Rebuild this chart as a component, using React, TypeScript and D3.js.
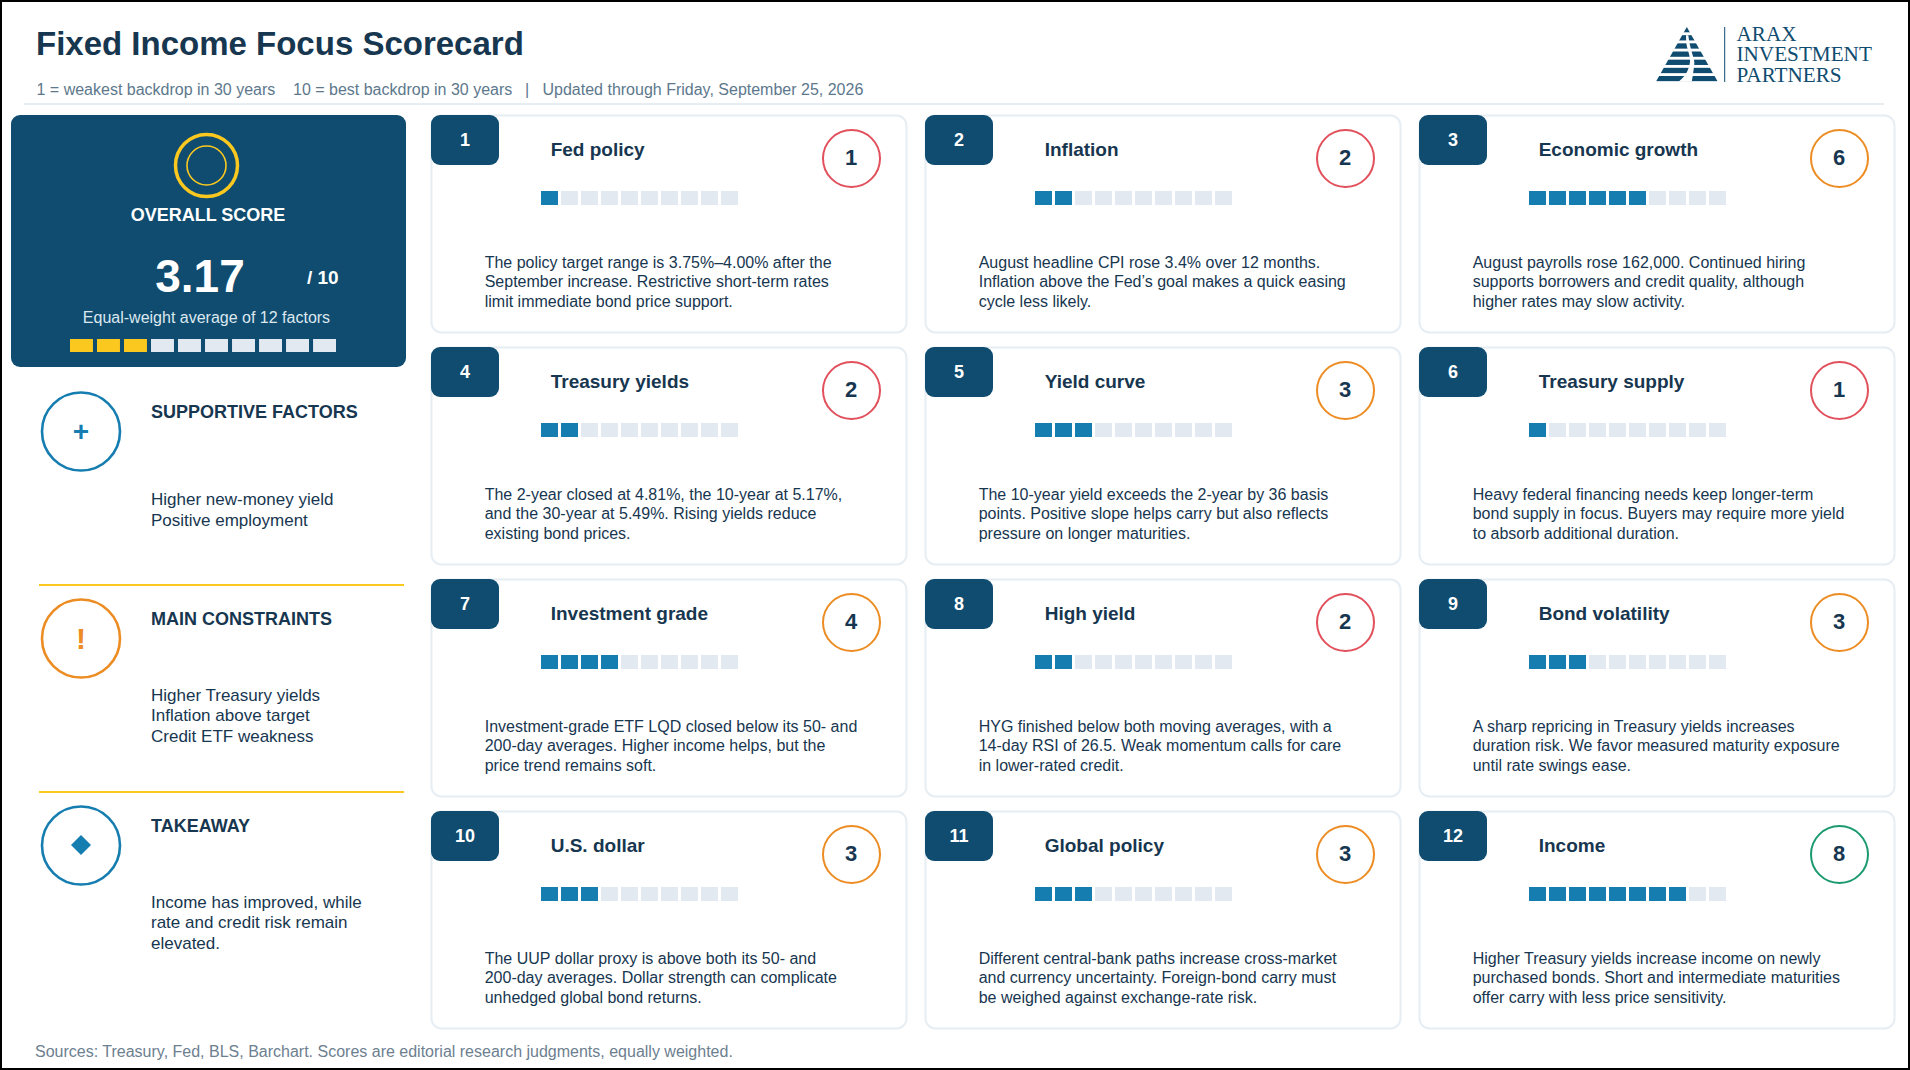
import React from 'react'
import * as d3 from 'd3'

const factorNames = ['Fed policy', 'Inflation', 'Economic growth', 'Treasury yields', 'Yield curve', 'Treasury supply', 'Investment grade', 'High yield', 'Bond volatility', 'U.S. dollar', 'Global policy', 'Income']
const factorScores = [1, 2, 6, 2, 3, 1, 4, 2, 3, 3, 3, 8]
const factorNotes = [
  ['The policy target range is 3.75%–4.00% after the', 'September increase. Restrictive short-term rates', 'limit immediate bond price support.'],
  ['August headline CPI rose 3.4% over 12 months.', 'Inflation above the Fed’s goal makes a quick easing', 'cycle less likely.'],
  ['August payrolls rose 162,000. Continued hiring', 'supports borrowers and credit quality, although', 'higher rates may slow activity.'],
  ['The 2-year closed at 4.81%, the 10-year at 5.17%,', 'and the 30-year at 5.49%. Rising yields reduce', 'existing bond prices.'],
  ['The 10-year yield exceeds the 2-year by 36 basis', 'points. Positive slope helps carry but also reflects', 'pressure on longer maturities.'],
  ['Heavy federal financing needs keep longer-term', 'bond supply in focus. Buyers may require more yield', 'to absorb additional duration.'],
  ['Investment-grade ETF LQD closed below its 50- and', '200-day averages. Higher income helps, but the', 'price trend remains soft.'],
  ['HYG finished below both moving averages, with a', '14-day RSI of 26.5. Weak momentum calls for care', 'in lower-rated credit.'],
  ['A sharp repricing in Treasury yields increases', 'duration risk. We favor measured maturity exposure', 'until rate swings ease.'],
  ['The UUP dollar proxy is above both its 50- and', '200-day averages. Dollar strength can complicate', 'unhedged global bond returns.'],
  ['Different central-bank paths increase cross-market', 'and currency uncertainty. Foreign-bond carry must', 'be weighed against exchange-rate risk.'],
  ['Higher Treasury yields increase income on newly', 'purchased bonds. Short and intermediate maturities', 'offer carry with less price sensitivity.'],
]
const sideTitles = ['SUPPORTIVE FACTORS', 'MAIN CONSTRAINTS', 'TAKEAWAY']
const sideGlyphs = ['+', '!', '']
const sideNotes = [
  ['Higher new-money yield', 'Positive employment'],
  ['Higher Treasury yields', 'Inflation above target', 'Credit ETF weakness'],
  ['Income has improved, while', 'rate and credit risk remain', 'elevated.'],
]
const overallScore = 3.17
const logoLines = ['ARAX', 'INVESTMENT', 'PARTNERS']

const NAVY = '#0f4c6f'
const INK = '#17364f'
const BLUE = '#167db0'
const ORANGE = '#ec8c22'
const GOLD = '#fbc81f'
const PALE = '#e2e9f1'
const sans = '"Liberation Sans", Arial, sans-serif'

const columnX = d3.scaleLinear().domain([0, 2]).range([431, 1419])
const rowY = d3.scaleLinear().domain([0, 3]).range([115, 811])
const segX = d3.scaleBand<number>().domain(d3.range(10)).range([0, 197]).paddingInner(0.15)
const overallSegX = d3.scaleBand<number>().domain(d3.range(10)).range([70, 336]).paddingInner(0.15)
const scoreColor = d3.scaleThreshold<number, string>().domain([3, 7]).range(['#e2505c', ORANGE, '#1b9a6e'])
const sideY = d3.scaleLinear().domain([0, 2]).range([431.5, 845.5])
const diamond = d3.symbol(d3.symbolSquare, 200)()

function Card({i}: {i: number}) {
  const score = factorScores[i]
  return (
    <g transform={`translate(${columnX(i % 3)},${rowY(Math.floor(i / 3))})`} fontFamily={sans}>
      <rect x={0.5} y={0.5} width={475} height={217} rx={10} fill="#fff" stroke="#e6edf3" strokeWidth={2} />
      <rect width={68} height={50} rx={9} fill={NAVY} />
      <text x={34} y={31} textAnchor="middle" fontSize={18} fontWeight={700} fill="#fff">{i + 1}</text>
      <text x={119.7} y={40.5} fontSize={19} fontWeight={700} fill={INK}>{factorNames[i]}</text>
      <circle cx={420.5} cy={43.5} r={28.5} fill="#fff" stroke={scoreColor(score)} strokeWidth={2} />
      <text x={420.2} y={50} textAnchor="middle" fontSize={22} fontWeight={700} fill={INK}>{score}</text>
      {segX.domain().map(k => (
        <rect key={k} x={110 + segX(k)!} y={76} width={segX.bandwidth()} height={14} fill={k < score ? BLUE : PALE} />
      ))}
      {factorNotes[i].map((line, k) => (
        <text key={k} x={53.7} y={152.7 + k * 19.5} fontSize={16} fill={INK}>{line}</text>
      ))}
    </g>
  )
}

function Side({i}: {i: number}) {
  const cy = sideY(i)
  const color = i === 1 ? ORANGE : BLUE
  return (
    <g fontFamily={sans}>
      <circle cx={81} cy={cy} r={39} fill="#fff" stroke={color} strokeWidth={2.6} />
      {sideGlyphs[i] ? (
        <text x={81} y={cy + (i === 0 ? 9.5 : 10)} textAnchor="middle" fontSize={i === 0 ? 28 : 30} fontWeight={700} fill={color}>{sideGlyphs[i]}</text>
      ) : (
        <path d={diamond ?? ''} transform={`translate(81,${cy - 0.5}) rotate(45)`} fill={color} />
      )}
      <text x={151} y={cy - 14} fontSize={18} fontWeight={700} fill={INK}>{sideTitles[i]}</text>
      {sideNotes[i].map((line, k) => (
        <text key={k} x={151} y={cy + (i === 0 ? 73.5 : 62) + k * 20.5} fontSize={17} fill={INK}>{line}</text>
      ))}
    </g>
  )
}

function Logo() {
  const bandY = d3.scaleLinear().domain([0, 6]).range([27, 76])
  const roadLeft: [number, number][] = [[1678.3, 82], [1685, 75.3], [1688.3, 68.7], [1690, 62], [1689.3, 55.3], [1686.7, 45.3], [1686, 35.3]]
  const roadRight: [number, number][] = [[1688.3, 35.3], [1690, 45.3], [1692.7, 55.3], [1694.3, 62], [1693.3, 72], [1691.7, 82]]
  const edge = d3.line().curve(d3.curveCatmullRom)
  const road = `${edge(roadLeft)}L${edge(roadRight)!.slice(1)}Z`
  return (
    <g>
      <clipPath id="logo-tri"><path d="M1686.8 27 L1717.7 81.5 L1656 81.5 Z" /></clipPath>
      <g clipPath="url(#logo-tri)">
        {d3.range(7).map(k => <rect key={k} x={1650} y={bandY(k)} width={75} height={5.3} fill={NAVY} />)}
        <path d={road} fill="#fff" />
      </g>
      <line x1={1724.7} x2={1724.7} y1={27} y2={82} stroke={NAVY} strokeWidth={1} />
      {logoLines.map((line, k) => (
        <text key={line} x={1736.5} y={41 + k * 20.4} fontFamily='"Liberation Serif", serif' fontSize={21.2} fill={NAVY}>{line}</text>
      ))}
    </g>
  )
}

export default function App() {
  return (
    <svg width={1910} height={1070} viewBox="0 0 1910 1070" style={{position: 'absolute', left: 0, top: 0, background: '#fff'}}>
      <rect x={1} y={1} width={1908} height={1068} fill="#fff" stroke="#000" strokeWidth={2} />
      <text x={36} y={55} fontFamily={sans} fontSize={33} fontWeight={700} fill={INK}>Fixed Income Focus Scorecard</text>
      <g fontFamily={sans} fontSize={16} fill="#5d788c">
        <text x={36.5} y={95}>1 = weakest backdrop in 30 years</text>
        <text x={293} y={95}>10 = best backdrop in 30 years</text>
        <text x={525} y={95}>|</text>
        <text x={542.5} y={95}>Updated through Friday, September 25, 2026</text>
      </g>
      <line x1={24} x2={1884} y1={104} y2={104} stroke="#e6edf3" strokeWidth={2} />
      <Logo />

      <rect x={11} y={115} width={395} height={252} rx={9} fill={NAVY} />
      <circle cx={206.5} cy={165.5} r={31} fill="none" stroke={GOLD} strokeWidth={3.5} />
      <circle cx={206.5} cy={165.5} r={19.5} fill="none" stroke={GOLD} strokeWidth={1.6} />
      <g fontFamily={sans} fill="#fff" fontWeight={700}>
        <text x={208} y={220.5} textAnchor="middle" fontSize={18}>OVERALL SCORE</text>
        <text x={200} y={292} textAnchor="middle" fontSize={46}>{overallScore}</text>
        <text x={307} y={284} fontSize={19}>/ 10</text>
      </g>
      <text x={206.5} y={322.5} textAnchor="middle" fontFamily={sans} fontSize={16} fill="#dce8f0">Equal-weight average of 12 factors</text>
      {overallSegX.domain().map(k => (
        <rect key={k} x={overallSegX(k)} y={339} width={overallSegX.bandwidth()} height={13} fill={k < Math.floor(overallScore) ? GOLD : PALE} />
      ))}

      {sideTitles.map((_, i) => <Side key={i} i={i} />)}
      <line x1={39} x2={404} y1={585} y2={585} stroke={GOLD} strokeWidth={2} />
      <line x1={39} x2={404} y1={792} y2={792} stroke={GOLD} strokeWidth={2} />

      {factorNames.map((_, i) => <Card key={i} i={i} />)}

      <text x={35} y={1056.5} fontFamily={sans} fontSize={16} fill="#6d8090">Sources: Treasury, Fed, BLS, Barchart. Scores are editorial research judgments, equally weighted.</text>
    </svg>
  )
}
